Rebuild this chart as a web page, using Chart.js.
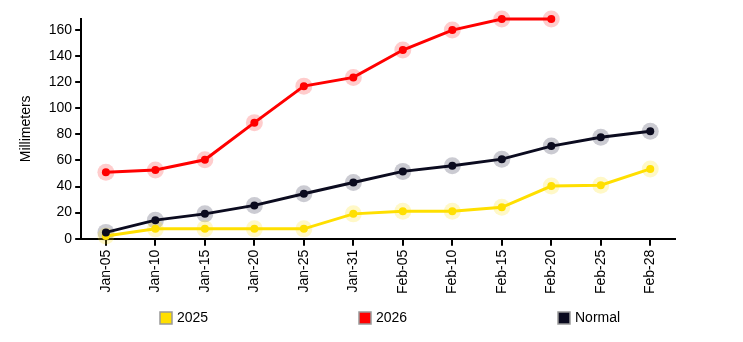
<!DOCTYPE html>
<html>
<head>
<meta charset="utf-8">
<script src="https://cdn.jsdelivr.net/npm/chart.js@4/dist/chart.umd.min.js"></script>
<style>
  html, body { margin: 0; padding: 0; background: #fff; }
  #wrap { width: 743px; height: 342px; }
</style>
</head>
<body>
<div id="wrap"><canvas id="rain-chart"></canvas></div>
<script>
// cumulative precipitation, mm
const dates = ['Jan-05', 'Jan-10', 'Jan-15', 'Jan-20', 'Jan-25', 'Jan-31',
  'Feb-05', 'Feb-10', 'Feb-15', 'Feb-20', 'Feb-25', 'Feb-28'];
const rain2025 = [2, 7.5, 7.5, 7.5, 7.5, 19, 21, 21, 24, 40.3, 41, 53.5];
const rain2026 = [51, 52.6, 60.5, 89, 117, 123.7, 144.7, 160, 168.5, 168.5, null, null];
const rainNormal = [4.8, 14.2, 19, 25.5, 34.4, 43.1, 51.6, 56, 61, 71, 77.7, 82.3];
const yTicks = [0, 20, 40, 60, 80, 100, 120, 140, 160];

const series = [
  { label: '2025', values: rain2025, color: '#ffdf00', halo: 'rgba(255,223,0,0.22)', order: 2 },
  { label: '2026', values: rain2026, color: '#ff0000', halo: 'rgba(255,0,0,0.2)', order: 2 },
  { label: 'Normal', values: rainNormal, color: '#0b0b1f', halo: 'rgba(20,20,50,0.22)', order: 1 }
];

const fontFamily = 'Arial, "Liberation Sans", sans-serif';

// main lines, then the soft halos drawn behind each point
const datasets = series.map(s => ({
  label: s.label,
  data: s.values,
  borderColor: s.color,
  backgroundColor: s.color,
  borderWidth: 3,
  pointRadius: 4,
  pointBorderWidth: 0,
  pointBackgroundColor: s.color,
  fill: false,
  clip: false,
  order: s.order
})).concat(series.map(s => ({
  label: s.label + ' halo',
  data: s.values,
  showLine: false,
  pointRadius: 8.5,
  pointBorderWidth: 0,
  pointBackgroundColor: s.halo,
  clip: false,
  order: 3
})));

// legend row under the axis labels, items spread across the width
const legendRow = {
  id: 'legendRow',
  afterDraw(chart) {
    const ctx = chart.ctx;
    const startX = [160, 359, 558];
    const y = 318;
    ctx.save();
    ctx.font = '14px ' + fontFamily;
    ctx.textBaseline = 'middle';
    ctx.textAlign = 'left';
    series.forEach((s, i) => {
      ctx.fillStyle = s.color;
      ctx.fillRect(startX[i], y - 6, 12, 12);
      ctx.strokeStyle = '#999';
      ctx.lineWidth = 1.5;
      ctx.strokeRect(startX[i], y - 6, 12, 12);
      ctx.fillStyle = '#000';
      ctx.fillText(s.label, startX[i] + 17, y);
    });
    ctx.restore();
  }
};

new Chart(document.getElementById('rain-chart'), {
  type: 'line',
  data: { labels: dates, datasets: datasets },
  plugins: [legendRow],
  options: {
    responsive: true,
    maintainAspectRatio: false,
    animation: false,
    layout: { padding: { left: 18, right: 68, top: 19, bottom: 44 } },
    plugins: {
      tooltip: { enabled: false },
      legend: { display: false }
    },
    scales: {
      x: {
        offset: true,
        border: { display: true, color: '#000', width: 2 },
        grid: { display: true, drawOnChartArea: false, color: '#000', lineWidth: 2, tickLength: 7, offset: false },
        ticks: { color: '#000', font: { family: fontFamily, size: 14 }, minRotation: 90, maxRotation: 90, autoSkip: false, padding: 4 }
      },
      y: {
        min: 0,
        max: 168.5,
        bounds: 'data',
        border: { display: true, color: '#000', width: 2 },
        grid: { display: true, drawOnChartArea: false, color: '#000', lineWidth: 2, tickLength: 6 },
        ticks: { color: '#000', font: { family: fontFamily, size: 14 }, stepSize: 20, includeBounds: false, padding: 3 },
        afterBuildTicks(scale) {
          scale.ticks = yTicks.map(v => ({ value: v }));
        },
        title: {
          display: true,
          text: 'Millimeters',
          color: '#000',
          font: { family: fontFamily, size: 14 },
          padding: { top: 0, bottom: 11 }
        }
      }
    }
  }
});
</script>
</body>
</html>
